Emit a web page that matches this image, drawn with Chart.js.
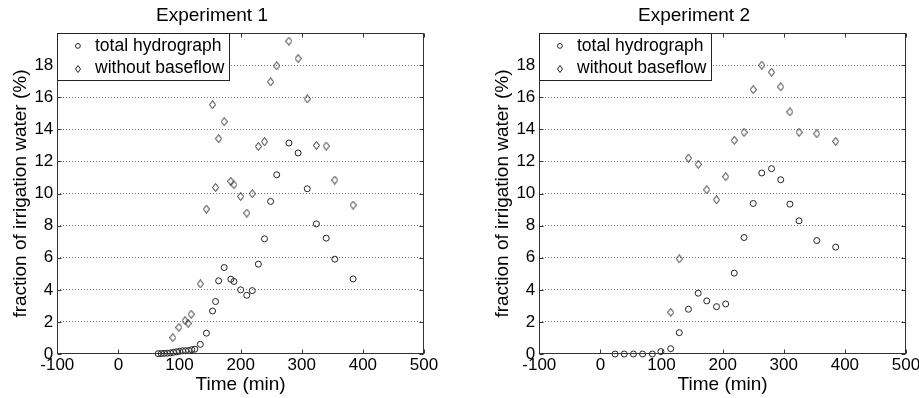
<!DOCTYPE html>
<html>
<head>
<meta charset="utf-8">
<script src="https://cdn.jsdelivr.net/npm/chart.js@4.4.1/dist/chart.umd.min.js"></script>
<style>
  html, body { margin: 0; padding: 0; background: #fff; }
  #wrap { position: relative; width: 919px; height: 398px; overflow: hidden; }
  .panel { position: absolute; top: 0; height: 398px; }
</style>
</head>
<body>
<div id="wrap">
  <div class="panel" style="left:0;width:460px"><canvas id="c1" width="460" height="398"></canvas></div>
  <div class="panel" style="left:460px;width:459px"><canvas id="c2" width="459" height="398"></canvas></div>
</div>
<script>
// Experiment 1
const exp1TotalTime = [65, 70, 75, 80, 85, 90, 95, 100, 105, 110, 115, 120, 125,
  134, 144, 154, 159, 164, 173, 184, 189, 200, 210, 219, 229, 239, 249, 259, 279, 294, 309, 324, 340, 354, 384];
const exp1TotalFrac = [0.02, 0.03, 0.04, 0.05, 0.07, 0.1, 0.14, 0.17, 0.2, 0.2, 0.22, 0.27, 0.3,
  0.6, 1.3, 2.68, 3.27, 4.56, 5.39, 4.66, 4.52, 4.0, 3.66, 3.95, 5.6, 7.18, 9.51, 11.17, 13.15, 12.53, 10.3, 8.11, 7.22, 5.91, 4.68];
const exp1NoBaseTime = [89, 99, 109, 114, 119, 134, 144, 154, 159, 164, 173, 184, 189, 200,
  210, 219, 229, 239, 249, 259, 279, 294, 309, 324, 340, 354, 384];
const exp1NoBaseFrac = [1.02, 1.66, 2.08, 1.91, 2.48, 4.37, 9.03, 15.54, 10.38, 13.42, 14.48, 10.76, 10.55, 9.82,
  8.78, 9.99, 12.94, 13.23, 16.96, 17.96, 19.5, 18.41, 15.9, 13.0, 12.96, 10.84, 9.28];

// Experiment 2
const exp2TotalTime = [24, 39, 54, 69, 85, 99, 115, 129, 144, 160, 174, 190, 205, 219, 235,
  250, 264, 280, 295, 310, 325, 354, 385];
const exp2TotalFrac = [0, 0, 0, 0, 0, 0.15, 0.33, 1.33, 2.79, 3.79, 3.31, 2.95, 3.12, 5.04, 7.26,
  9.38, 11.28, 11.55, 10.86, 9.34, 8.3, 7.07, 6.66];
const exp2NoBaseTime = [115, 129, 144, 160, 174, 190, 205, 219, 235, 250, 264, 280, 295, 310, 325, 354, 385];
const exp2NoBaseFrac = [2.6, 5.93, 12.21, 11.82, 10.24, 9.61, 11.05, 13.32, 13.82, 16.48, 18.0, 17.56,
  16.65, 15.09, 13.82, 13.73, 13.25];

const seriesNames = ['total hydrograph', 'without baseflow'];
const xTicks = [-100, 0, 100, 200, 300, 400, 500];
const yTicks = [0, 2, 4, 6, 8, 10, 12, 14, 16, 18];

const FONT = '"Liberation Sans", Arial, Helvetica, sans-serif';
const TICK_FONT = '"Liberation Sans Narrow", "Arial Narrow", "Liberation Sans", sans-serif';
const INK = '#222';

function diamond(w, h) {
  const c = document.createElement('canvas');
  c.width = w; c.height = h;
  const g = c.getContext('2d');
  g.strokeStyle = INK;
  g.lineWidth = 1;
  g.beginPath();
  g.moveTo(w / 2, 0.5);
  g.lineTo(w - 0.5, h / 2);
  g.lineTo(w / 2, h - 0.5);
  g.lineTo(0.5, h / 2);
  g.closePath();
  g.stroke();
  return c;
}
const diamondBig = diamond(7, 9);
const diamondSmall = diamond(6, 8);

function pts(xs, ys) {
  return xs.map((x, i) => ({ x: x, y: ys[i] }));
}

// box, inward tick marks and legend inside the axes
const frame = {
  id: 'frame',
  afterDatasetsDraw(chart) {
    const { ctx, chartArea: a, scales: { x, y } } = chart;
    const L = Math.round(a.left) + 0.5, R = Math.round(a.right) - 0.5;
    const T = Math.round(a.top) + 0.5, B = Math.round(a.bottom) - 0.5;
    ctx.save();
    ctx.strokeStyle = '#333';
    ctx.lineWidth = 1;
    ctx.beginPath();
    x.ticks.forEach(t => {
      const px = Math.round(x.getPixelForValue(t.value)) + 0.5;
      ctx.moveTo(px, B); ctx.lineTo(px, B - 4);
      ctx.moveTo(px, T); ctx.lineTo(px, T + 4);
    });
    y.ticks.forEach(t => {
      const py = Math.round(y.getPixelForValue(t.value)) + 0.5;
      ctx.moveTo(L, py); ctx.lineTo(L + 4, py);
      ctx.moveTo(R, py); ctx.lineTo(R - 4, py);
    });
    ctx.stroke();
    ctx.strokeRect(L, T, R - L, B - T);

    // legend
    const lw = 172, lh = 47;
    ctx.fillStyle = '#fff';
    ctx.fillRect(L, T, lw, lh);
    ctx.strokeStyle = '#222';
    ctx.strokeRect(L, T, lw, lh);
    const rows = [T + 12.4, T + 35];
    ctx.strokeStyle = INK;
    ctx.beginPath();
    ctx.arc(L + 20.4, rows[0], 2.4, 0, Math.PI * 2);
    ctx.stroke();
    ctx.drawImage(diamondSmall, Math.round(L + 20.4 - 3), Math.round(rows[1] - 4));
    ctx.fillStyle = '#000';
    ctx.font = '17.5px ' + FONT;
    ctx.textBaseline = 'middle';
    ctx.textAlign = 'left';
    chart.data.datasets.forEach((d, i) => ctx.fillText(d.label, L + 37.5, rows[i]));
    ctx.restore();
  }
};

function makeChart(id, title, tTime, tFrac, nTime, nFrac, padLeft, padRight) {
  return new Chart(document.getElementById(id), {
    type: 'scatter',
    data: {
      datasets: [{
        label: seriesNames[0],
        data: pts(tTime, tFrac),
        pointStyle: 'circle',
        pointRadius: 3,
        borderColor: INK,
        backgroundColor: 'rgba(0,0,0,0)',
        borderWidth: 1,
        clip: false
      }, {
        label: seriesNames[1],
        data: pts(nTime, nFrac),
        pointStyle: diamondBig,
        pointRadius: 4,
        borderColor: INK,
        backgroundColor: 'rgba(0,0,0,0)',
        clip: false
      }]
    },
    options: {
      responsive: false,
      devicePixelRatio: 1,
      animation: false,
      events: [],
      layout: { padding: { left: padLeft, right: padRight, top: 0, bottom: 0 } },
      plugins: {
        legend: { display: false },
        tooltip: { enabled: false },
        title: {
          display: true,
          text: title,
          color: '#000',
          font: { family: FONT, size: 19, weight: 'normal', lineHeight: 1.2 },
          padding: { top: 4, bottom: 6.3 }
        }
      },
      scales: {
        x: {
          type: 'linear',
          min: -100,
          max: 500,
          afterBuildTicks: s => { s.ticks = xTicks.map(v => ({ value: v })); },
          afterFit: s => { s.height = 44; s.paddingLeft = 0; s.paddingRight = 0; },
          ticks: { color: '#000', font: { family: TICK_FONT, size: 17 }, padding: 1, maxRotation: 0, autoSkip: false },
          grid: { display: false, drawTicks: false },
          border: { display: false },
          title: {
            display: true,
            text: 'Time (min)',
            color: '#000',
            font: { family: FONT, size: 19, lineHeight: 1.2 },
            padding: { top: 0, bottom: 2 }
          }
        },
        y: {
          type: 'linear',
          min: 0,
          max: 20,
          afterBuildTicks: s => { s.ticks = yTicks.map(v => ({ value: v })); },
          afterFit: s => { s.width = 57.3; s.paddingTop = 0; s.paddingBottom = 0; },
          ticks: { color: '#000', font: { family: TICK_FONT, size: 17 }, padding: 4, autoSkip: false },
          grid: {
            drawTicks: false,
            lineWidth: 1,
            color: c => (c.tick && c.tick.value === 0) ? 'rgba(0,0,0,0)' : '#777'
          },
          border: { display: false, dash: [1, 2] },
          title: {
            display: true,
            text: 'fraction of irrigation water (%)',
            color: '#000',
            font: { family: FONT, size: 19, lineHeight: 1.2 },
            padding: { top: 9, bottom: 0 }
          }
        }
      }
    },
    plugins: [frame]
  });
}

makeChart('c1', 'Experiment 1', exp1TotalTime, exp1TotalFrac, exp1NoBaseTime, exp1NoBaseFrac, 0, 36);
makeChart('c2', 'Experiment 2', exp2TotalTime, exp2TotalFrac, exp2NoBaseTime, exp2NoBaseFrac, 22, 13);
</script>
</body>
</html>
